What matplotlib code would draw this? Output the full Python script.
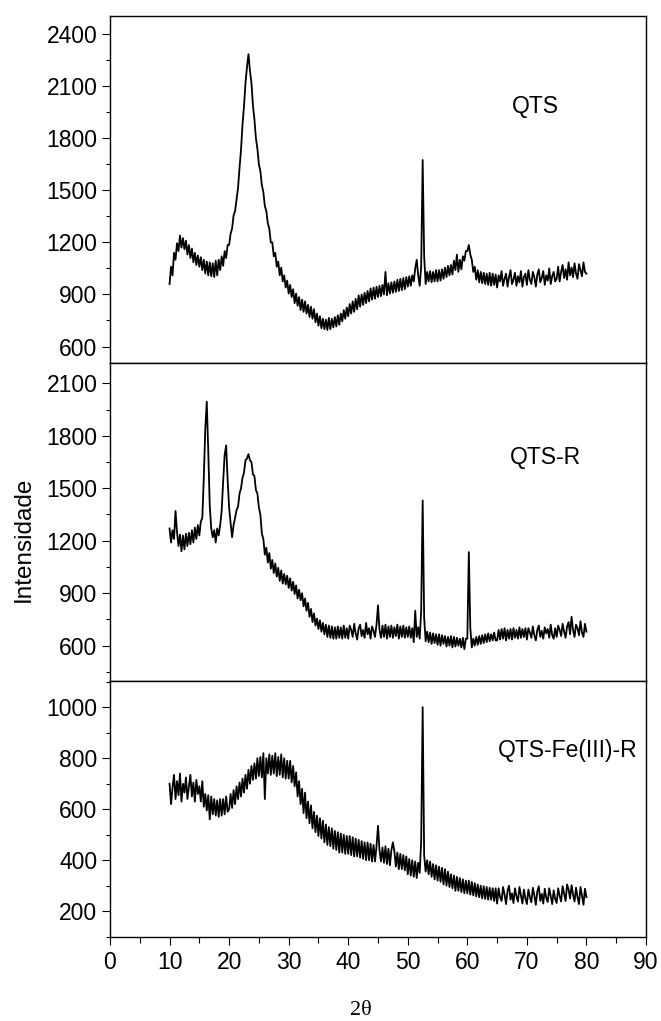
import numpy as np
import matplotlib
matplotlib.use("Agg")
import matplotlib.pyplot as plt
from matplotlib.ticker import MultipleLocator

# 2-theta grid (degrees), 0.25 degree step from 10 to 80
two_theta = np.arange(10.0, 80.001, 0.25)

# Intensity readings (one row = 5 degrees)
qts = [
    960, 1060, 1010, 1140, 1100, 1195, 1150, 1240, 1170, 1225, 1160, 1210, 1130, 1185, 1110, 1165, 1085, 1140, 1070, 1125,
    1060, 1115, 1040, 1100, 1020, 1090, 1010, 1085, 1005, 1080, 1000, 1095, 1010, 1100, 1040, 1120, 1065, 1150, 1110, 1185,
    1185, 1250, 1280, 1355, 1380, 1450, 1515, 1630, 1735, 1880, 1985, 2120, 2210, 2285, 2190, 2120, 1990, 1910, 1800, 1740,
    1650, 1610, 1530, 1490, 1410, 1380, 1310, 1280, 1200, 1200, 1120, 1140, 1060, 1090, 1010, 1055, 975, 1010, 940, 980,
    905, 955, 885, 930, 850, 905, 835, 885, 810, 870, 800, 860, 790, 840, 770, 830, 760, 815, 740, 790,
    720, 775, 705, 760, 700, 755, 695, 765, 700, 760, 710, 770, 715, 780, 725, 790, 745, 810, 760, 825,
    775, 845, 790, 860, 800, 875, 815, 895, 830, 900, 840, 910, 850, 920, 860, 935, 870, 940, 875, 945,
    885, 950, 890, 955, 900, 1030, 895, 965, 905, 970, 910, 975, 915, 985, 920, 990, 925, 995, 930, 1000,
    945, 1005, 950, 1010, 975, 1050, 1100, 1010, 950, 1060, 1675, 1120, 960, 1030, 975, 1035, 970, 1030, 975, 1040,
    975, 1040, 980, 1045, 990, 1055, 1000, 1065, 1010, 1070, 1015, 1095, 1040, 1130, 1030, 1100, 1045, 1120, 1095, 1150,
    1150, 1185, 1130, 1100, 1030, 1060, 985, 1040, 970, 1030, 965, 1025, 960, 1020, 955, 1025, 950, 1020, 955, 1015,
    940, 1010, 975, 1035, 950, 990, 1020, 945, 1000, 1040, 960, 985, 1025, 950, 1005, 970, 1035, 945, 1000, 1020,
    955, 1040, 985, 960, 1030, 1000, 945, 1015, 1045, 970, 995, 1035, 955, 1010, 980, 1050, 960, 1005, 1030, 975,
    990, 1060, 975, 1030, 1070, 995, 1045, 985, 1085, 1010, 1055, 1000, 1080, 1020, 990, 1075, 1040, 1005, 1085, 1030,
    1020,
]

qts_r = [
    1270, 1190, 1260, 1210, 1370, 1250, 1170, 1235, 1140, 1230, 1150, 1240, 1170, 1245, 1180, 1260, 1190, 1275, 1210, 1290,
    1230, 1310, 1330, 1560, 1840, 1995, 1710, 1400, 1270, 1220, 1260, 1190, 1270, 1230, 1290, 1370, 1540, 1690, 1745, 1550,
    1390, 1300, 1220, 1290, 1330, 1375, 1395, 1470, 1500, 1560, 1590, 1660, 1670, 1695, 1660, 1650, 1580, 1570, 1490, 1470,
    1390, 1350, 1240, 1210, 1120, 1160, 1075, 1130, 1040, 1090, 1015, 1070, 995, 1045, 970, 1030, 955, 1010, 950, 1000,
    930, 985, 915, 965, 895, 945, 870, 920, 860, 900, 825, 870, 800, 845, 765, 810, 735, 785, 715, 755,
    695, 745, 680, 730, 665, 720, 650, 715, 645, 710, 640, 705, 640, 710, 645, 705, 640, 715, 645, 700,
    640, 715, 690, 650, 725, 670, 635, 700, 720, 655, 690, 645, 730, 665, 700, 640, 710, 685, 650, 720,
    830, 690, 645, 715, 650, 720, 640, 710, 650, 715, 645, 705, 655, 720, 640, 710, 650, 715, 645, 705,
    650, 710, 645, 700, 620, 800, 650, 705, 640, 800, 1430, 760, 625, 680, 620, 675, 610, 670, 615, 665,
    605, 665, 600, 660, 610, 655, 595, 650, 600, 655, 590, 650, 595, 645, 600, 640, 590, 645, 580, 640,
    640, 1135, 700, 590, 640, 600, 650, 605, 655, 610, 660, 615, 665, 620, 670, 625, 665, 630, 675, 630,
    630, 690, 635, 695, 640, 700, 630, 690, 640, 695, 635, 700, 645, 690, 640, 705, 645, 695, 650, 700,
    635, 700, 675, 645, 710, 660, 630, 690, 715, 650, 685, 640, 705, 670, 695, 645, 720, 660, 640, 700,
    650, 715, 690, 655, 725, 680, 645, 710, 735, 665, 765, 690, 650, 720, 700, 660, 740, 675, 650, 725,
    680,
]

qts_fe_r = [
    700, 620, 685, 735, 640, 710, 655, 740, 630, 700, 665, 725, 640, 690, 735, 650, 705, 630, 715, 660,
    690, 630, 710, 610, 660, 595, 655, 560, 650, 580, 640, 575, 635, 570, 640, 575, 640, 580, 650, 590,
    600, 660, 605, 675, 620, 690, 640, 705, 650, 720, 665, 735, 680, 755, 700, 770, 715, 780, 720, 800,
    730, 805, 725, 820, 640, 800, 740, 815, 735, 810, 740, 820, 730, 805, 735, 815, 725, 800, 720, 790,
    720, 790, 705, 770, 690, 745, 650, 710, 620, 680, 585, 665, 565, 630, 545, 615, 525, 590, 510, 575,
    495, 565, 485, 555, 470, 540, 460, 530, 455, 525, 445, 515, 440, 510, 430, 505, 430, 500, 425, 495,
    425, 495, 420, 490, 415, 485, 415, 480, 410, 475, 405, 470, 400, 470, 400, 465, 395, 460, 395, 455,
    535, 440, 395, 450, 390, 455, 385, 445, 380, 440, 470, 435, 375, 430, 365, 425, 365, 420, 360, 415,
    345, 405, 340, 400, 335, 395, 330, 390, 350, 475, 1000, 420, 355, 400, 345, 395, 335, 385, 325, 380,
    320, 375, 315, 370, 305, 365, 300, 355, 295, 345, 290, 340, 280, 335, 280, 330, 275, 325, 270, 320,
    270, 320, 265, 315, 262, 310, 258, 305, 255, 300, 250, 298, 248, 295, 245, 292, 245, 290, 240, 290,
    230, 290, 255, 240, 295, 265, 228, 280, 300, 245, 270, 232, 290, 258, 238, 295, 262, 230, 285, 250,
    228, 285, 255, 235, 292, 262, 225, 278, 298, 240, 268, 230, 288, 252, 236, 290, 258, 228, 282, 248,
    232, 290, 260, 238, 298, 270, 240, 305, 285, 250, 302, 265, 238, 292, 255, 228, 295, 262, 225, 288,
    255,
]

sample_names = ["QTS", "QTS-R", "QTS-Fe(III)-R"]
y_limits = [(505, 2505), (398, 2216), (100, 1103)]
y_major = [300, 300, 200]
y_ticks = [
    [600, 900, 1200, 1500, 1800, 2100, 2400],
    [600, 900, 1200, 1500, 1800, 2100],
    [200, 400, 600, 800, 1000],
]
x_ticks = [0, 10, 20, 30, 40, 50, 60, 70, 80, 90]
y_label = "Intensidade"
x_label = "2θ"

plt.rcParams['font.family'] = ['Liberation Sans', 'DejaVu Sans']

W, H = 661, 1021
fig = plt.figure(figsize=(W / 100, H / 100), dpi=100)

left = 110 / W
width = (646 - 110) / W
bounds_px = [(16, 363), (363, 681), (681, 936.7)]

series = [qts, qts_r, qts_fe_r]
label_pos = [(0.793, 0.738), (0.812, 0.704), (0.854, 0.730)]

axes = []
for i, (top, bot) in enumerate(bounds_px):
    ax = fig.add_axes([left, 1 - bot / H, width, (bot - top) / H])
    ax.plot(two_theta, series[i], color='black', lw=1.3)
    ax.set_xlim(0, 90)
    ax.set_ylim(*y_limits[i])
    ax.set_yticks(y_ticks[i])
    ax.yaxis.set_minor_locator(MultipleLocator(y_major[i] / 2))
    ax.tick_params(axis='y', which='major', direction='out', length=6, width=0.8,
                   labelsize=16.5, pad=3)
    ax.tick_params(axis='y', which='minor', direction='out', length=3, width=0.8)
    ax.tick_params(axis='y', right=False)
    for sp in ax.spines.values():
        sp.set_linewidth(1.0)
    ax.text(label_pos[i][0], label_pos[i][1], sample_names[i], transform=ax.transAxes,
            ha='center', va='center', fontsize=16.5)
    if i < 2:
        ax.tick_params(axis='x', which='both', bottom=False, top=False, labelbottom=False)
    else:
        ax.set_xticks(x_ticks)
        ax.xaxis.set_minor_locator(MultipleLocator(5))
        ax.tick_params(axis='x', which='major', direction='out', length=6, width=0.8,
                       labelsize=16.5, pad=4)
        ax.tick_params(axis='x', which='minor', direction='out', length=4, width=0.8)
    axes.append(ax)

fig.text(24 / W, 1 - 539 / H, y_label, rotation=90, ha='center', va='center', fontsize=17.5)
fig.text(361 / W, 1 - 1010 / H, x_label, ha='center', va='center', fontsize=16,
         family=['Liberation Serif', 'DejaVu Serif'])

fig.savefig("out.png", dpi=100)
